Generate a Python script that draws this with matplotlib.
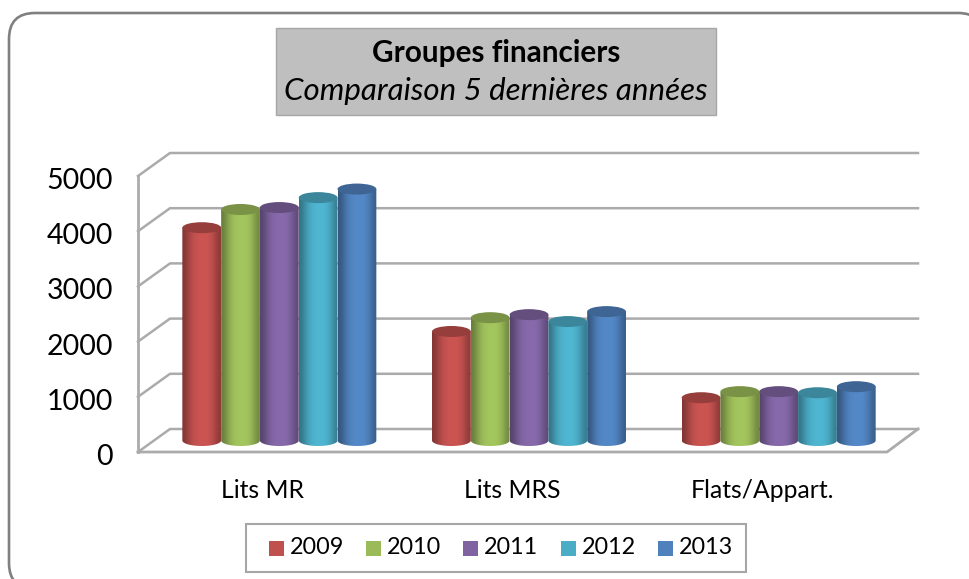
import numpy as np
import matplotlib
matplotlib.use("Agg")
import matplotlib.pyplot as plt
from matplotlib.patches import FancyBboxPatch, Ellipse, Rectangle, PathPatch
from matplotlib.path import Path
from matplotlib.colors import LinearSegmentedColormap, to_rgb

categories = ['Lits MR', 'Lits MRS', 'Flats/Appart.']
years = ['2009', '2010', '2011', '2012', '2013']
v2009 = [3855, 1975, 775]
v2010 = [4185, 2225, 885]
v2011 = [4220, 2280, 885]
v2012 = [4400, 2155, 865]
v2013 = [4555, 2335, 975]
yticks = [0, 1000, 2000, 3000, 4000, 5000]

series = [v2009, v2010, v2011, v2012, v2013]
colors = ['#C0504D', '#9BBB59', '#8064A2', '#4BACC6', '#4F81BD']
W, H = 970, 579

plt.rcParams['font.family'] = ['Lato', 'DejaVu Sans']
fig = plt.figure(figsize=(W / 100, H / 100), dpi=100)

# whole figure overlay in pixel units, for frame and title box
bg = fig.add_axes([0, 0, 1, 1])
bg.set_xlim(0, W)
bg.set_ylim(H, 0)
bg.axis('off')
bg.add_patch(FancyBboxPatch((9, 13), 975, 576, boxstyle='round,pad=0,rounding_size=26',
                            fc='white', ec='#808080', lw=1.9))
bg.add_patch(Rectangle((276, 28), 440, 87, fc='#BFBFBF', ec='#A6A6A6', lw=1))
bg.text(496, 53, 'Groupes financiers', ha='center', va='center', fontsize=21.4, fontweight='bold', color='black')
bg.text(496, 91, 'Comparaison 5 dernières années', ha='center', va='center', fontsize=22.5, style='italic', color='black')

# front plane of the 3D box: x 138..887, y 452..176
ax = fig.add_axes([138 / W, 1 - 452 / H, 749 / W, 276 / H])
ax.set_xlim(-0.5, 2.5)
ax.set_ylim(0, 5000)
ax.axis('off')
ax.patch.set_alpha(0)

px_x = 3 / 749.0
px_y = 5000 / 276.0
depth_x = 32 * px_x
depth_y = 23 * px_y
grid_c = '#ABABAB'

# walls and gridlines
for t in yticks:
    ax.plot([2.5 + depth_x - 1 * px_x, -0.5 + depth_x, -0.5], [t + depth_y, t + depth_y, t], color=grid_c, lw=1.8, clip_on=False, zorder=1)
ax.plot([-0.5, -0.5], [0, 5000], color=grid_c, lw=2, clip_on=False, zorder=1)
ax.plot([-0.5, 2.5, 2.5 + depth_x - 1 * px_x], [0, 0, depth_y], color=grid_c, lw=2, clip_on=False, zorder=1)

for t in yticks:
    ax.text(-0.5 - 25 * px_x, t - 5 * px_y, str(t), ha='right', va='center', fontsize=20.5, color='black', clip_on=False)
for i, c in enumerate(categories):
    ax.text(i, -38 * px_y, c, ha='center', va='center', fontsize=17.8, color='black', clip_on=False)

# cylinders
bar_w = 38.8 * px_x
rx = bar_w / 2
ry = 5.5 * px_y
base = depth_y / 2
grad = np.array([0.0, 0.45, 0.8, 0.95, 1.0, 1.0, 0.9, 0.6, 0.15])
for s, vals in enumerate(series):
    rgb = np.array(to_rgb(colors[s]))
    cmap = LinearSegmentedColormap.from_list('c', [tuple(rgb * 0.68), tuple(np.minimum(rgb * 1.06, 1))])
    for i, v in enumerate(vals):
        cx = i + depth_x / 2 + (s - 2) * bar_w + 0.5 * px_x
        top = base + v
        im = ax.imshow(grad[None, :], extent=[cx - rx, cx + rx, base - ry, top], cmap=cmap,
                       vmin=0, vmax=1, aspect='auto', interpolation='bicubic', zorder=3 + s)
        t = np.linspace(np.pi, 2 * np.pi, 40)
        verts = [(cx - rx, top)] + list(zip(cx + rx * np.cos(t), base + ry * np.sin(t))) + [(cx + rx, top), (cx - rx, top)]
        clip = PathPatch(Path(verts), transform=ax.transData, fc='none', ec='none', zorder=0)
        ax.add_patch(clip)
        im.set_clip_path(clip)
        ax.add_patch(Ellipse((cx, top), bar_w, 2 * ry, fc=rgb * 0.78, ec='none', zorder=3 + s, clip_on=False))
ax.set_xlim(-0.5, 2.5)
ax.set_ylim(0, 5000)

# legend box
bg2 = fig.add_axes([0, 0, 1, 1])
bg2.set_xlim(0, W)
bg2.set_ylim(H, 0)
bg2.axis('off')
bg2.patch.set_alpha(0)
bg2.add_patch(Rectangle((246, 524), 500, 48, fc='white', ec='#A6A6A6', lw=1.5))
leg_x = [269, 366, 463, 561, 658]
for x, y_, c in zip(leg_x, years, colors):
    bg2.add_patch(Rectangle((x, 541), 15, 15, fc=c, ec='none'))
    bg2.text(x + 21, 548, y_, ha='left', va='center', fontsize=16.8, color='black')

fig.savefig('out.png', dpi=100)
